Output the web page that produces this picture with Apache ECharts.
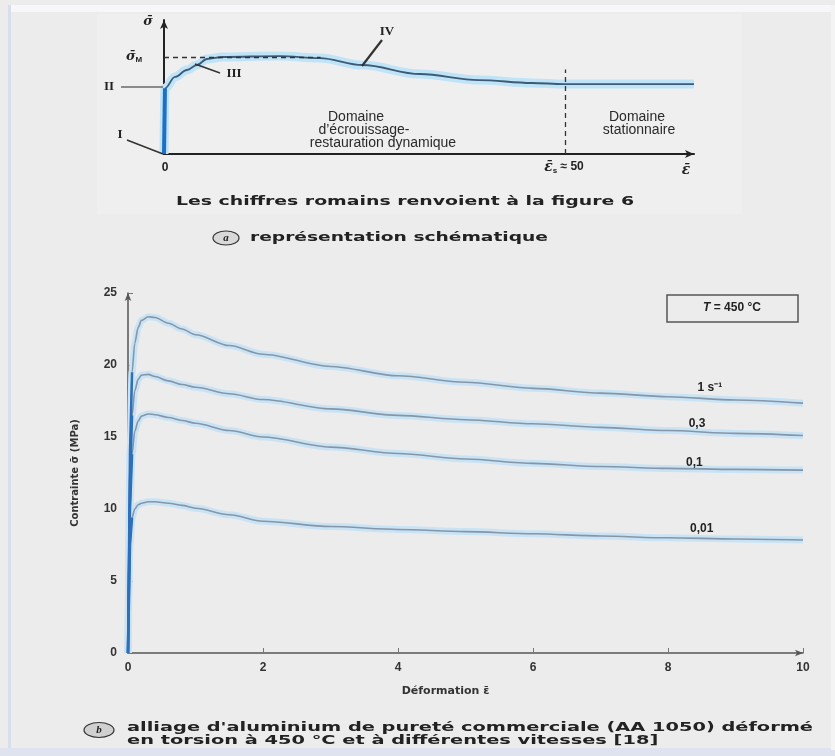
<!DOCTYPE html>
<html><head><meta charset="utf-8">
<script src="https://cdn.jsdelivr.net/npm/echarts@6/dist/echarts.min.js"></script>
<style>html,body{margin:0;padding:0;background:#ececec}#c{width:835px;height:756px}</style>
</head><body><div id="c"></div><script>
// ---- lower chart data (b) ----
const strain = [0, 0.03, 0.06, 0.1, 0.15, 0.2, 0.3, 0.4, 0.6, 0.8, 1, 1.5, 2, 3, 4, 5, 6, 7, 8, 9, 10];
const stress1 = [0, 14, 19.5, 21.5, 22.6, 23.1, 23.35, 23.3, 22.9, 22.5, 22.1, 21.35, 20.75, 19.9, 19.25, 18.8, 18.38, 18.05, 17.8, 17.57, 17.35];
const stress03 = [0, 12, 16.5, 18.2, 19.0, 19.3, 19.35, 19.2, 18.9, 18.65, 18.45, 18.0, 17.6, 16.95, 16.5, 16.2, 15.92, 15.67, 15.45, 15.25, 15.1];
const stress01 = [0, 10, 13.8, 15.4, 16.1, 16.45, 16.6, 16.55, 16.35, 16.15, 15.95, 15.45, 15.0, 14.3, 13.85, 13.47, 13.17, 12.95, 12.82, 12.75, 12.7];
const stress001 = [0, 7.5, 9.4, 10.0, 10.3, 10.4, 10.5, 10.5, 10.4, 10.25, 10.05, 9.6, 9.15, 8.78, 8.58, 8.43, 8.28, 8.12, 8.0, 7.92, 7.85];
const rateLabels = ['1 s\u207B\u00B9', '0,3', '0,1', '0,01'];
const labelStrain = [8.62, 8.43, 8.39, 8.5];
const labelStress = [18.4, 15.9, 13.2, 8.6];
const xMin = 0, xMax = 10, xStep = 2;
const yMin = 0, yMax = 25, yStep = 5;

// ---- schematic data (a) ----
const schemStrain = [0, 0.12, 1.37, 2.86, 4.1, 5.35, 7.35, 14.4, 19.4, 24.7, 31.9, 39.2, 45.8, 49.8, 66];
const schemStress = [0, 0.49, 0.575, 0.627, 0.664, 0.709, 0.724, 0.731, 0.716, 0.664, 0.597, 0.552, 0.53, 0.522, 0.522];
const sigmaM = 0.724, sigmaMEnd = 19.5;
const epsS = 50, epsSTop = 0.63;

const allCurves = [stress1, stress03, stress01, stress001];

const chart = echarts.init(document.getElementById('c'), null, {renderer: 'canvas'});
const F = "'Liberation Sans', Arial, sans-serif";
const FD = "'DejaVu Sans', sans-serif";
const FS = "'Liberation Serif', 'DejaVu Serif', serif";
const FDS = "'DejaVu Serif', serif";

function fitScale(str, font, target) {
  const ctx = document.createElement('canvas').getContext('2d');
  ctx.font = font;
  return target / ctx.measureText(str).width;
}

const series = [];
allCurves.forEach((vals, i) => {
  const pts = strain.map((x, k) => [x, vals[k]]);
  series.push({type: 'line', xAxisIndex: 0, yAxisIndex: 0, data: pts, showSymbol: false, smooth: 0.3, smoothMonotone: 'x',
    lineStyle: {color: '#c9e3f5', width: 7}, z: 2, silent: true});
  series.push({type: 'line', xAxisIndex: 0, yAxisIndex: 0, data: pts, showSymbol: false, smooth: 0.3, smoothMonotone: 'x',
    lineStyle: {color: '#8496a7', width: 1.6}, z: 3, silent: true,
    markPoint: {symbol: 'circle', symbolSize: 0, silent: true,
      data: [{coord: [labelStrain[i], labelStress[i]], value: rateLabels[i]}],
      label: {show: true, position: 'inside', formatter: rateLabels[i], color: '#222', fontWeight: 'bold', fontSize: 12, fontFamily: F}}});
  series.push({type: 'line', xAxisIndex: 0, yAxisIndex: 0, data: pts.slice(0, 3), showSymbol: false,
    lineStyle: {color: '#2f6fb8', width: 2.5}, z: 4, silent: true});
});
const sPts = schemStrain.map((x, k) => [x, schemStress[k]]);
series.push({type: 'line', xAxisIndex: 1, yAxisIndex: 1, data: sPts, showSymbol: false, smooth: 0.35, smoothMonotone: 'x',
  lineStyle: {color: '#bfe3f7', width: 9}, z: 2, silent: true});
series.push({type: 'line', xAxisIndex: 1, yAxisIndex: 1, data: sPts, showSymbol: false, smooth: 0.35, smoothMonotone: 'x',
  lineStyle: {color: '#3d5b76', width: 1.8}, z: 3, silent: true,
  markLine: {symbol: 'none', silent: true, label: {show: false},
    lineStyle: {type: [5, 4], color: '#333', width: 1.3},
    data: [[{coord: [0, sigmaM]}, {coord: [sigmaMEnd, sigmaM]}], [{coord: [epsS, 0]}, {coord: [epsS, epsSTop]}]]}});
series.push({type: 'line', xAxisIndex: 1, yAxisIndex: 1, data: sPts.slice(0, 2), showSymbol: false,
  lineStyle: {color: '#1f6fc5', width: 4}, z: 4, silent: true});

const capFont = "bold 12px " + FD;
const cap1 = "alliage d'aluminium de pureté commerciale (AA 1050) déformé";
const cap2 = "en torsion à 450 °C et à différentes vitesses [18]";
const capScale = fitScale(cap1, capFont, 686);
const lesTxt = 'Les chiffres romains renvoient à la figure 6';
const lesScale = fitScale(lesTxt, capFont, 458);
const repTxt = 'représentation schématique';
const repScale = fitScale(repTxt, capFont, 298);

function txt(x, y, text, o) {
  o = o || {};
  return {type: 'text', x: x, y: y, z: 100, scaleX: o.sx || 1,
    style: {text: text, font: o.font || ("bold 12px " + F), fill: o.fill || '#222', textAlign: o.align || 'center', textVerticalAlign: 'middle', rich: o.rich}};
}
function line(x1, y1, x2, y2, c, w) {
  return {type: 'line', z: 100, shape: {x1, y1, x2, y2}, style: {stroke: c, lineWidth: w}};
}
const greek = "italic bold 13px " + FDS;

const graphic = [
  {type: 'rect', z: -10, shape: {x: 97, y: 14, width: 645, height: 200}, style: {fill: '#efefef'}},
  {type: 'rect', z: -9, shape: {x: 8, y: 5, width: 827, height: 7}, style: {fill: '#f7f7fb'}},
  {type: 'rect', z: -9, shape: {x: 8, y: 5, width: 3, height: 745}, style: {fill: '#d9deee'}},
  {type: 'rect', z: -9, shape: {x: 0, y: 748, width: 835, height: 8}, style: {fill: '#dfe3ef'}},
  {type: 'rect', z: -9, shape: {x: 831, y: 5, width: 4, height: 745}, style: {fill: '#f4f4f4'}},
  // schematic annotations
  txt(148, 22, '{i|σ\u0304}', {rich: {i: {font: greek, fill: '#222'}}}),
  txt(134, 57, '{i|σ\u0304}{s|M}', {rich: {i: {font: greek, fill: '#222'}, s: {font: "bold 8px " + F, fill: '#222', padding: [6, 0, 0, 0]}}}),
  txt(109, 87, 'II', {font: "bold 13px " + FS}),
  line(121, 87, 163, 87, '#8a8a8a', 2),
  txt(120, 135, 'I', {font: "bold 13px " + FS}),
  line(127, 140, 163, 154, '#333', 1.5),
  txt(234, 74, 'III', {font: "bold 13px " + FS}),
  line(195, 64, 220, 73, '#333', 1.5),
  txt(387, 32, 'IV', {font: "bold 13px " + FS}),
  line(382, 40, 362, 66, '#333', 2.2),
  txt(356, 117, 'Domaine', {font: "14px " + F, fill: '#2a2a2a'}),
  txt(364, 130, 'd\u2019écrouissage-', {font: "14px " + F, fill: '#2a2a2a'}),
  txt(383, 143, 'restauration dynamique', {font: "14px " + F, fill: '#2a2a2a'}),
  txt(637, 117, 'Domaine', {font: "14px " + F, fill: '#2a2a2a'}),
  txt(639, 130, 'stationnaire', {font: "14px " + F, fill: '#2a2a2a'}),
  txt(165, 168, '0', {font: "bold 12px " + F}),
  txt(564, 167, '{i|ε\u0304}{s|s}{n| \u2248 50}', {rich: {i: {font: "italic bold 14px " + FDS, fill: '#222'}, s: {font: "bold 8px " + F, fill: '#222', padding: [7, 0, 0, 0]}, n: {font: "bold 12px " + F, fill: '#222'}}}),
  txt(686, 170, '{i|ε\u0304}', {rich: {i: {font: "italic bold 14px " + FDS, fill: '#222'}}}),
  txt(176, 202, lesTxt, {align: 'left', sx: lesScale, font: capFont}),
  {type: 'ellipse', z: 100, shape: {cx: 226, cy: 238, rx: 13, ry: 7}, style: {fill: '#d8d8d8', stroke: '#333', lineWidth: 1.2}},
  txt(226, 238, 'a', {font: "italic bold 11px " + FS}),
  txt(250, 238, repTxt, {align: 'left', sx: repScale, font: capFont}),
  // lower chart annotations
  {type: 'rect', z: 100, shape: {x: 667, y: 295, width: 131, height: 27}, style: {fill: 'none', stroke: '#555', lineWidth: 1.5}},
  txt(732, 308, '{i|T}{n| = 450 °C}', {rich: {i: {font: "italic bold 12px " + F, fill: '#222'}, n: {font: "bold 12px " + F, fill: '#222'}}}),
  {type: 'ellipse', z: 100, shape: {cx: 99, cy: 730, rx: 15, ry: 7.5}, style: {fill: '#d0d0d0', stroke: '#333', lineWidth: 1.2}},
  txt(99, 730, 'b', {font: "italic bold 11px " + FS}),
  txt(127, 728, cap1, {align: 'left', sx: capScale, font: capFont}),
  txt(127, 741, cap2, {align: 'left', sx: capScale, font: capFont})
];

const axisTxt = {color: '#333', fontWeight: 'bold', fontSize: 12, fontFamily: F};
const nameTxt = {color: '#333', fontWeight: 'bold', fontSize: 12, fontFamily: FD};
const option = {
  animation: false,
  backgroundColor: '#ececec',
  grid: [
    {left: 128, top: 293, width: 675, height: 360},
    {left: 164, top: 20, width: 530, height: 134}
  ],
  xAxis: [
    {type: 'value', gridIndex: 0, min: xMin, max: xMax, interval: xStep,
      axisLine: {show: true, symbol: ['none', 'arrow'], symbolSize: [5, 8], lineStyle: {color: '#555', width: 1.5}},
      axisTick: {show: true, inside: true, length: 5, lineStyle: {color: '#777'}},
      splitLine: {show: false},
      axisLabel: Object.assign({margin: 9}, axisTxt),
      name: 'Déformation ε\u0304', nameLocation: 'middle', nameGap: 33,
      nameTextStyle: Object.assign({padding: [0, 40, 0, 0]}, nameTxt, {fontSize: 11})},
    {type: 'value', gridIndex: 1, min: 0, max: 66,
      axisLine: {show: true, symbol: ['none', 'arrow'], symbolSize: [6, 9], lineStyle: {color: '#222', width: 2}},
      axisTick: {show: false}, axisLabel: {show: false}, splitLine: {show: false}}
  ],
  yAxis: [
    {type: 'value', gridIndex: 0, min: yMin, max: yMax, interval: yStep,
      axisLine: {show: true, symbol: ['none', 'arrow'], symbolSize: [5, 8], lineStyle: {color: '#555', width: 1.5}},
      axisTick: {show: true, inside: true, length: 5, lineStyle: {color: '#777'}},
      splitLine: {show: false},
      axisLabel: Object.assign({margin: 11}, axisTxt),
      name: 'Contrainte σ\u0304 (MPa)', nameLocation: 'middle', nameGap: 48,
      nameTextStyle: Object.assign({}, nameTxt, {fontSize: 10})},
    {type: 'value', gridIndex: 1, min: 0, max: 1,
      axisLine: {show: true, symbol: ['none', 'arrow'], symbolSize: [6, 9], lineStyle: {color: '#222', width: 2}},
      axisTick: {show: false}, axisLabel: {show: false}, splitLine: {show: false}}
  ],
  series: series,
  graphic: graphic
};
chart.setOption(option);
</script></body></html>
